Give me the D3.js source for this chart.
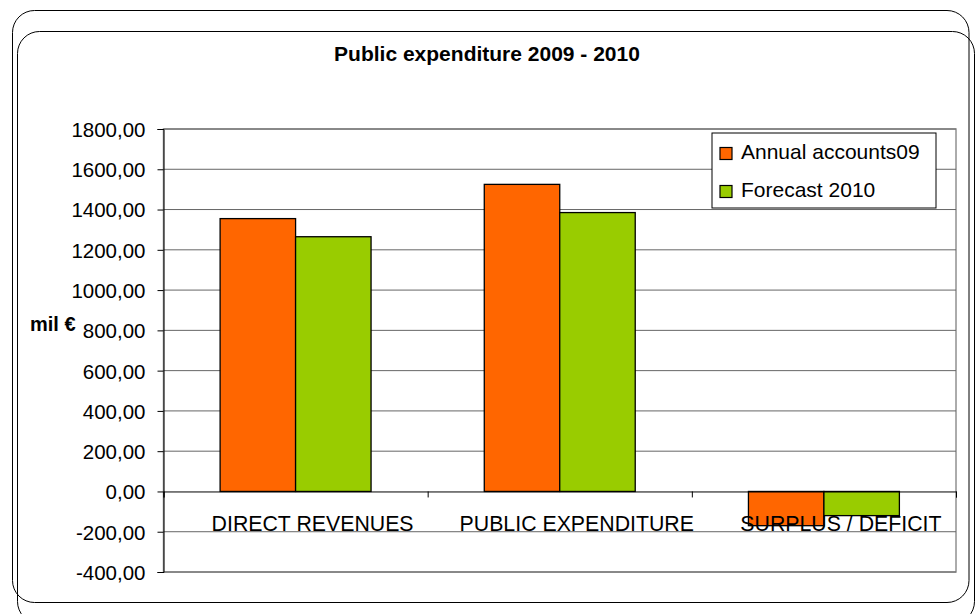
<!DOCTYPE html>
<html>
<head>
<meta charset="utf-8">
<script src="https://d3js.org/d3.v7.min.js"></script>
<style>
  body { margin: 0; background: #fff; }
  text { font-family: "Liberation Sans", Arial, sans-serif; fill: #000; }
</style>
</head>
<body>
<svg id="chart" width="975" height="614"></svg>
<script>
// data
var categories = ["DIRECT REVENUES", "PUBLIC EXPENDITURE", "SURPLUS / DEFICIT"];
var seriesNames = ["Annual accounts09", "Forecast 2010"];
var annual09 = [1355, 1525, -170];
var forecast10 = [1265, 1385, -120];
var yTicks = [-400, -200, 0, 200, 400, 600, 800, 1000, 1200, 1400, 1600, 1800];
var colors = ["#ff6600", "#99cc00"];

var svg = d3.select("#chart");

// the two rounded frames
svg.append("rect").attr("x", 12.5).attr("y", 10.5).attr("width", 956.5).attr("height", 592)
  .attr("rx", 22).attr("fill", "none").attr("stroke", "#000").attr("stroke-width", 1);
svg.append("rect").attr("x", 17.5).attr("y", 31.5).attr("width", 957).attr("height", 592)
  .attr("rx", 22).attr("fill", "none").attr("stroke", "#000").attr("stroke-width", 1);

// title
svg.append("text").attr("x", 487).attr("y", 61)
  .attr("text-anchor", "middle").style("font-size", "21px").style("font-weight", "bold")
  .text("Public expenditure 2009 - 2010");

var plotLeft = 163.5, plotRight = 956, plotTop = 129, plotBottom = 572;

var x0 = d3.scaleBand().domain(categories).range([plotLeft, plotRight]).paddingInner(0);
var bw = x0.bandwidth();
var x1 = d3.scaleBand().domain(seriesNames).range([bw * 0.75 / 3.5, bw - bw * 0.75 / 3.5]);
var y = d3.scaleLinear().domain([-400, 1800]).range([plotBottom, plotTop]);

// plot area border
svg.append("rect").attr("x", plotLeft).attr("y", plotTop)
  .attr("width", plotRight - plotLeft).attr("height", plotBottom - plotTop)
  .attr("fill", "none").attr("stroke", "#909090").attr("stroke-width", 1.5);

// gridlines
svg.append("g").selectAll("line").data(yTicks.filter(function(d){ return d != 0; })).enter().append("line")
  .attr("x1", plotLeft).attr("x2", plotRight)
  .attr("y1", function(d){ return y(d); }).attr("y2", function(d){ return y(d); })
  .attr("stroke", "#666").attr("stroke-width", 1);

// bars
var table = categories.map(function(c, i){
  return [{s: seriesNames[0], v: annual09[i], c: c}, {s: seriesNames[1], v: forecast10[i], c: c}];
});

var groups = svg.append("g").selectAll("g").data(table).enter().append("g")
  .attr("transform", function(d){ return "translate(" + x0(d[0].c) + ",0)"; });

groups.selectAll("rect").data(function(d){ return d; }).enter().append("rect")
  .attr("x", function(d){ return x1(d.s); })
  .attr("width", x1.bandwidth())
  .attr("y", function(d){ return y(Math.max(0, d.v)); })
  .attr("height", function(d){ return Math.abs(y(d.v) - y(0)); })
  .attr("fill", function(d, i){ return colors[i]; })
  .attr("stroke", "#000").attr("stroke-width", 1.3);

// y axis
var yAxis = svg.append("g").attr("transform", "translate(" + plotLeft + ",0)")
  .call(d3.axisLeft(y).tickValues(yTicks).tickSize(6).tickPadding(12)
    .tickFormat(function(d){ return d.toFixed(2).replace(".", ","); }));
yAxis.select(".domain").attr("stroke", "#000");
yAxis.selectAll(".tick line").attr("stroke", "#000");
yAxis.selectAll("text").style("font-size", "20.5px").style("font-family", "Liberation Sans, Arial, sans-serif")
  .attr("dy", "0.36em");

// zero line with category ticks
var xAxis = svg.append("g").attr("transform", "translate(0," + y(0) + ")")
  .call(d3.axisBottom(d3.scaleLinear().domain([0, 3]).range([plotLeft, plotRight]))
    .tickValues([0, 1, 2, 3]).tickSize(6).tickFormat(""));
xAxis.select(".domain").attr("stroke", "#000");
xAxis.selectAll(".tick line").attr("stroke", "#000");

// category labels (drawn over bars)
svg.append("g").selectAll("text").data(categories).enter().append("text")
  .attr("x", function(d){ return x0(d) + bw / 2 + 17; })
  .attr("y", 531)
  .attr("text-anchor", "middle").style("font-size", "21.3px")
  .text(function(d){ return d; });

// y axis title
svg.append("text").attr("x", 30).attr("y", 331)
  .style("font-size", "20px").style("font-weight", "bold").text("mil €");

// legend
var legend = svg.append("g");
legend.append("rect").attr("x", 712).attr("y", 133).attr("width", 224).attr("height", 75)
  .attr("fill", "#fff").attr("stroke", "#000").attr("stroke-width", 1);
var items = legend.selectAll("g").data(seriesNames).enter().append("g")
  .attr("transform", function(d, i){ return "translate(720," + (147.5 + i * 38) + ")"; });
items.append("rect").attr("width", 12).attr("height", 12)
  .attr("fill", function(d, i){ return colors[i]; }).attr("stroke", "#000").attr("stroke-width", 1.2);
items.append("text").attr("x", 21).attr("y", 11).style("font-size", "21px")
  .text(function(d){ return d; });
</script>
</body>
</html>
